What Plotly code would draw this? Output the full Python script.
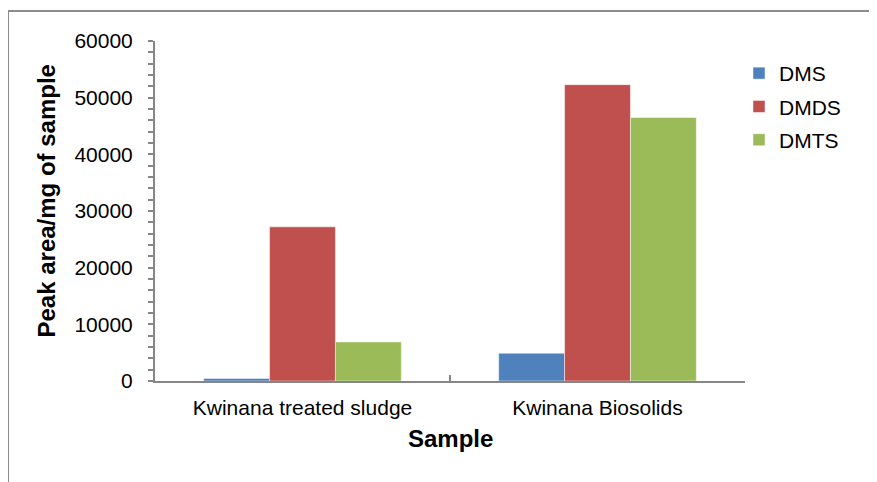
import plotly.graph_objects as go

categories = ["Kwinana treated sludge", "Kwinana Biosolids"]
series_names = ["DMS", "DMDS", "DMTS"]
dms = [450, 4900]
dmds = [27200, 52300]
dmts = [6900, 46500]
colors = ["#4F81BD", "#C0504D", "#9BBB59"]

fig = go.Figure()
for name, vals, col in zip(series_names, [dms, dmds, dmts], colors):
    fig.add_trace(go.Bar(x=categories, y=vals, name=name, legendgroup=name,
                         marker=dict(color=col, line=dict(color="rgba(255,255,255,0.6)", width=0.8))))

# page has an 8px body margin, so positions are expressed in figure coordinates (screen - 8)
W, H = 877, 482
L, T = 147, 33
PR, PB = 737, 373
R, B = W - PR, H - PB
pw, ph = PR - L, PB - T

def px(x):
    return (x - L) / pw

def py(y):
    return 1 - (y - T) / ph

fig.update_layout(
    width=W, height=H,
    margin=dict(l=L, r=R, t=T, b=B),
    paper_bgcolor="white", plot_bgcolor="white",
    barmode="group", bargap=0.33, bargroupgap=0,
    font=dict(family="Liberation Sans, Arial, sans-serif", size=21, color="black"),
    showlegend=True,
    legend=dict(x=px(731), y=py(45), xanchor="left", yanchor="top",
                font=dict(size=21), tracegroupgap=3, itemwidth=30,
                bgcolor="rgba(0,0,0,0)"),
    xaxis=dict(
        showline=True, linecolor="#868686", linewidth=2,
        ticks="inside", ticklen=6, tickcolor="#868686", tickwidth=2, tickson="boundaries",
        tickfont=dict(size=21), ticklabelstandoff=7,
        range=[-0.5, 1.5],
    ),
    yaxis=dict(
        range=[0, 60000], dtick=10000, tickformat="d",
        showline=True, linecolor="#868686", linewidth=2,
        ticks="outside", ticklen=5, tickcolor="#868686", tickwidth=1.5,
        minor=dict(dtick=2000, ticks="outside", ticklen=5, tickcolor="#868686", tickwidth=1.5),
        showgrid=False, zeroline=False,
        tickfont=dict(size=21), ticklabelstandoff=11,
    ),
    annotations=[
        dict(text="<b>Peak area/mg of sample</b>", xref="paper", yref="paper",
             x=px(38), y=py(193.5), xanchor="center", yanchor="middle",
             textangle=-90, showarrow=False, font=dict(size=24)),
        dict(text="<b>Sample</b>", xref="paper", yref="paper",
             x=px(442), y=py(430), xanchor="center", yanchor="middle",
             showarrow=False, font=dict(size=24)),
    ],
)

# outer chart border (top and left visible)
fig.add_shape(type="line", xref="paper", yref="paper", x0=px(0), x1=px(W + 10), y0=py(3), y1=py(3),
              line=dict(color="#8c8c8c", width=2))
fig.add_shape(type="line", xref="paper", yref="paper", x0=px(0), x1=px(0), y0=py(3), y1=py(H + 10),
              line=dict(color="#8c8c8c", width=2))

fig.write_html("out.html")
